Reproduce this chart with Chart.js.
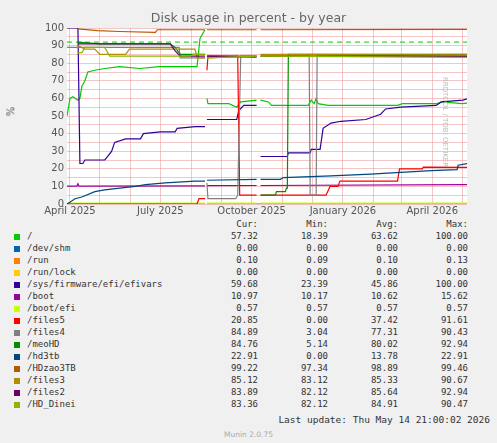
<!DOCTYPE html>
<html><head><meta charset="utf-8">
<script src="https://cdn.jsdelivr.net/npm/chart.js@4"></script>
<style>
body{margin:0;background:#f0f0f0;width:497px;height:443px;overflow:hidden;position:relative;font-family:"DejaVu Sans",sans-serif;color:#555}
#c{position:absolute;left:0;top:0}
.t{position:absolute;white-space:pre}
.m{font-family:"DejaVu Sans Mono",monospace;font-size:9px;color:#333}
.sw{position:absolute;width:6px;height:6px}
</style></head><body>
<canvas id="c" width="497" height="218"></canvas>
<div class="t" style="left:0;width:497px;top:10px;text-align:center;font-size:12.5px;color:#666">Disk usage in percent - by year</div>
<div class="t" style="left:6px;top:106px;font-size:10px;transform:rotate(-90deg)">%</div>
<div class="t" style="left:440px;top:118px;font-size:7px;color:#bbb;transform:rotate(90deg);transform-origin:center;width:110px;text-align:center;margin-left:-50px">RRDTOOL / TOBI OETIKER</div>
<div id="leg"></div>
<div class="t m" style="right:7px;top:414px;font-size:9.5px">Last update: Thu May 14 21:00:02 2026</div>
<div class="t" style="left:0;width:497px;top:430px;text-align:center;font-size:7.5px;color:#aaa">Munin 2.0.75</div>
<script>
const seriesNames=["/","/dev/shm","/run","/run/lock","/sys/firmware/efi/efivars","/boot","/boot/efi","/files5","/files4","/meoHD","/hd3tb","/HDzao3TB","/files3","/files2","/HD_Dinei"];
const colors=["#00cc00","#0066b3","#ff8000","#ffcc00","#330099","#990099","#ccff00","#ff0000","#808080","#008f00","#00487d","#b35a00","#b38f00","#6b006b","#8fb300"];
const cur=["57.32","0.00","0.10","0.00","59.68","10.97","0.57","20.85","84.89","84.76","22.91","99.22","85.12","83.89","83.36"];
const mins=["18.39","0.00","0.09","0.00","23.39","10.17","0.57","0.00","3.04","5.14","0.00","97.34","83.12","82.12","82.12"];
const avgs=["63.62","0.00","0.10","0.00","45.86","10.62","0.57","37.42","77.31","80.02","13.78","98.89","85.33","85.64","84.91"];
const maxs=["100.00","0.00","0.13","0.00","100.00","15.62","0.57","91.61","90.43","92.94","22.91","99.46","90.67","92.94","90.47"];
const G=null;
const root=[[-3,50],[0,60],[3,61],[8,59],[10,60],[12,67],[15,70],[18,75],[25,76],[35,77],[50,78],[70,77],[90,78],[110,78],[128,78],[131,94],[136,99],G,[138,60],[139,57],[160,57],[168,55],[172,58],[188,59],G,[192,59],[200,58],[203,56],[240,56],[243,59],[246,57],[248,60],[250,57],[260,56],[330,56],[335,57],[370,57],[375,58],[395,57],[400,57.3]];
const devshm=[[-3,0],[136,0],G,[138,0],[400,0]];
const run=[[-3,0.1],[136,0.1],G,[138,0.1],[400,0.1]];
const runlock=[[-3,0],[136,0],G,[138,0],[400,0]];
const efivars=[[-3,100],[8,100],[10,23],[13,23],[15,25],[35,25],[38,27],[42,30],[45,35],[56,37],[71,37],[74,40],[91,41],[106,41],[108,43],[126,44],[136,44],G,[138,48],[168,48],[170,53],[175,56],[188,56],G,[192,27],[219,27],[220,29],[242,29],[243,31],[252,31],[255,43],[263,46],[273,47],[298,48],[313,51],[318,54],[333,55],[369,56],[374,58],[396,59],[400,59.7]];
const boot=[[-3,10.2],[7,10.2],[8,11.5],[9,10.2],[136,10.3],G,[138,10.4],[188,10.5],G,[192,10.5],[400,10.97]];
const bootefi=[[-3,0.57],[136,0.57],G,[138,0.57],[188,0.57],G,[192,0.57],[400,0.57]];
const files5=[[-3,0],[128,0],[130,3],[136,3],G,[138,76],[139,84],[169,84],[171,5],[188,5],G,[192,5],[258,5],[262,10],[270,10],[272,13],[330,13],[332,20],[355,20],[356,21],[400,20.85]];
const files4=[[-3,89],[8,89],[110,89],[111,83],[136,83],G,[138,12],[139,3],[167,3],[169,5],[172,84],[188,84],G,[192,84],[241,84],[242,5],[248,5],[249,84],[400,84.89]];
const meoHD=[[8,92],[30,91],[101,91],[106,89],[111,85],[136,85],G,[138,84],[188,84],G,[192,5],[207,5],[208,7],[217,7],[218,9],[219,9],[220,85],[400,84.76]];
const hd3tb=[[-3,0],[0,1],[5,3],[12,4],[25,7],[35,8],[50,9],[66,10],[76,11],[96,12],[126,13],[136,13],G,[138,13.5],[188,14],G,[192,14],[212,14],[215,15],[263,16],[303,17],[333,18],[364,19],[390,19.5],[391,22],[400,22.9]];
const hdzao=[[8,99.5],[28,98.5],[50,98],[86,97.5],[88,99],[136,99],G,[138,99],[188,99],G,[192,99],[400,99.2]];
const files3=[[8,90],[15,88],[25,88],[30,85],[56,85],[60,88],[126,88],[128,83],[136,83],G,[138,83],[188,84],G,[192,85],[400,85.12]];
const files2=[[8,91],[101,91],[106,87],[111,84],[136,84],G,[138,84],[188,83.5],G,[192,84],[400,83.89]];
const hddinei=[[8,86],[12,86],[15,89],[35,89],[40,84],[121,84],[124,85],[136,85],G,[138,83],[188,84],G,[192,84],[400,83.36]];
const warnLine=[[-3,92],[400,92]];
const all=[root,devshm,run,runlock,efivars,boot,bootefi,files5,files4,meoHD,hd3tb,hdzao,files3,files2,hddinei];
const monthTicks=[0,30,61,91,122,153,183,214,244,275,306,334,365,395];
const tickLabels={0:"April 2025",91:"July 2025",183:"October 2025",275:"January 2026",365:"April 2026"};

const toPts=a=>a.map(p=>p?{x:p[0],y:p[1]}:{x:NaN,y:null});
const ds=all.map((a,i)=>({data:toPts(a),borderColor:colors[i],borderWidth:1.2,pointRadius:0,spanGaps:false,order:all.length-i}));
ds.unshift({data:toPts(warnLine),borderColor:"#00cc00",borderWidth:1,borderDash:[5,4],pointRadius:0,order:100});
const bg={id:'bg',beforeDraw(c){const a=c.chartArea,x=c.ctx;x.save();x.fillStyle='#fff';x.fillRect(a.left,a.top,a.right-a.left,a.bottom-a.top);x.restore();}};
new Chart(document.getElementById('c'),{type:'line',data:{datasets:ds},plugins:[bg],
options:{responsive:false,animation:false,layout:{padding:{top:28,right:30,left:0,bottom:0}},
plugins:{legend:{display:false},tooltip:{enabled:false}},
scales:{x:{type:'linear',min:-3,max:400,afterBuildTicks(s){s.ticks=monthTicks.map(v=>({value:v}));},
 ticks:{autoSkip:false,maxRotation:0,color:'#555',font:{size:10,family:'DejaVu Sans'},callback:v=>tickLabels[v]||'',padding:1},
 grid:{color:'rgba(230,140,140,0.7)',lineWidth:0.7,tickLength:0,dash:[1,2]},border:{display:false}},
 y:{min:0,max:100,afterFit(s){s.width=67;},ticks:{stepSize:5,autoSkip:false,color:'#555',font:{size:10,family:'DejaVu Sans'},callback:v=>v%10===0?v:'',padding:3},
 grid:{color:'rgba(230,140,140,0.7)',lineWidth:0.7,tickLength:0,dash:[1,2]},border:{display:false}}}}});
let h='';
const col=(txt,right,top)=>`<div class="t m" style="left:${right-80}px;width:80px;text-align:right;top:${top}px">${txt}</div>`;
h+=col('Cur:',258,219)+col('Min:',328,219)+col('Avg:',398,219)+col('Max:',468,219);
seriesNames.forEach((n,i)=>{const t=231+i*12;
 h+=`<div class="sw" style="left:14px;top:${t+3}px;background:${colors[i]}"></div>`;
 h+=`<div class="t m" style="left:27px;top:${t}px">${n}</div>`;
 h+=col(cur[i],258,t)+col(mins[i],328,t)+col(avgs[i],398,t)+col(maxs[i],468,t);});
document.getElementById('leg').innerHTML=h;
</script></body></html>
